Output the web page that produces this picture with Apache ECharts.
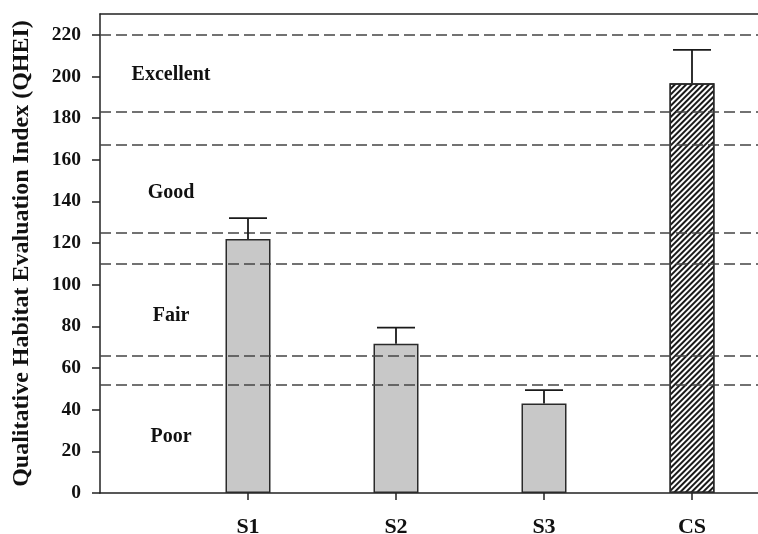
<!DOCTYPE html>
<html><head><meta charset="utf-8">
<script src="https://cdn.jsdelivr.net/npm/echarts@6/dist/echarts.min.js"></script>
<style>html,body{margin:0;padding:0;background:#fff}#c{width:758px;height:534px}</style>
</head><body><div id="c"></div>
<script>
const categories = ['S1', 'S2', 'S3', 'CS'];
const means = [122, 71.7, 43, 196.8];
const errors = [10, 7.7, 6.4, 16];
const thresholds = [220, 183, 167, 125, 110, 66, 52];
const yTicks = [0, 20, 40, 60, 80, 100, 120, 140, 160, 180, 200, 220];
const bandLabels = ['Excellent', 'Good', 'Fair', 'Poor'];
const bandLabelValues = [201, 144, 85, 27];

const FONT = '"Liberation Serif", "Times New Roman", serif';
const axisCats = [''].concat(categories, ['']);
const barData = ['-'].concat(means.map((v, i) => {
  const item = { value: v };
  if (categories[i] === 'CS') {
    item.itemStyle = {
      color: '#ffffff',
      decal: { symbol: 'rect', symbolSize: 1, dashArrayX: [1, 0], dashArrayY: [1.3, 1.7], rotation: -Math.PI / 4, color: '#1a1a1a' }
    };
  }
  return item;
}), ['-']);
const errData = means.map((v, i) => [i + 1, v, v + errors[i]]);

const chart = echarts.init(document.getElementById('c'));
chart.setOption({
  backgroundColor: '#ffffff',
  animation: false,
  grid: { left: 100, width: 740, top: 14, height: 479, outerBoundsMode: 'none', containLabel: false },
  xAxis: [{
    type: 'category', data: axisCats, boundaryGap: false,
    axisLine: { lineStyle: { color: '#222', width: 1.5 } },
    axisTick: { length: 7, interval: (idx, val) => val !== '', lineStyle: { color: '#222', width: 1.5 } },
    axisLabel: { fontFamily: FONT, fontWeight: 'bold', fontSize: 22, color: '#111', margin: 23 },
    splitLine: { show: false }
  }, {
    type: 'category', data: axisCats, boundaryGap: false, position: 'top',
    axisLine: { lineStyle: { color: '#222', width: 1.5 } },
    axisTick: { show: false }, axisLabel: { show: false }, splitLine: { show: false }
  }],
  yAxis: {
    type: 'value', min: 0, max: 230, interval: 20,
    name: 'Qualitative Habitat Evaluation Index (QHEI)',
    nameLocation: 'middle', nameGap: 66,
    nameTextStyle: { fontFamily: FONT, fontWeight: 'bold', fontSize: 24, color: '#111' },
    axisLine: { show: true, lineStyle: { color: '#222', width: 1.5 } },
    axisTick: { show: true, length: 8, customValues: yTicks, lineStyle: { color: '#222', width: 1.5 } },
    axisLabel: { customValues: yTicks, fontFamily: FONT, fontWeight: 'bold', fontSize: 19.5, color: '#111', margin: 19 },
    splitLine: { show: false }
  },
  series: [{
    type: 'bar', data: barData, barWidth: 45,
    itemStyle: { color: '#c8c8c8', borderColor: '#2a2a2a', borderWidth: 1.5 },
    markLine: {
      silent: true, symbol: 'none', label: { show: false },
      lineStyle: { type: [11, 5], color: '#444', width: 1.5 },
      data: thresholds.map(t => ({ yAxis: t })),
      z: 5
    }
  }, {
    type: 'custom', data: errData, z: 6,
    renderItem: function (params, api) {
      const x = api.value(0);
      const top = api.coord([x, api.value(2)]);
      const base = api.coord([x, api.value(1)]);
      const half = 19;
      const st = { stroke: '#1a1a1a', lineWidth: 1.8, fill: null };
      return { type: 'group', children: [
        { type: 'line', shape: { x1: top[0], y1: base[1], x2: top[0], y2: top[1] }, style: st },
        { type: 'line', shape: { x1: top[0] - half, y1: top[1], x2: top[0] + half, y2: top[1] }, style: st }
      ] };
    }
  }]
});

chart.setOption({
  graphic: bandLabels.map((t, i) => ({
    type: 'text', x: 171, y: chart.convertToPixel({ yAxisIndex: 0 }, bandLabelValues[i]),
    style: { text: t, fontFamily: FONT, fontWeight: 'bold', fontSize: 20, fill: '#111', textAlign: 'center', textVerticalAlign: 'middle' }
  }))
});
</script></body></html>
